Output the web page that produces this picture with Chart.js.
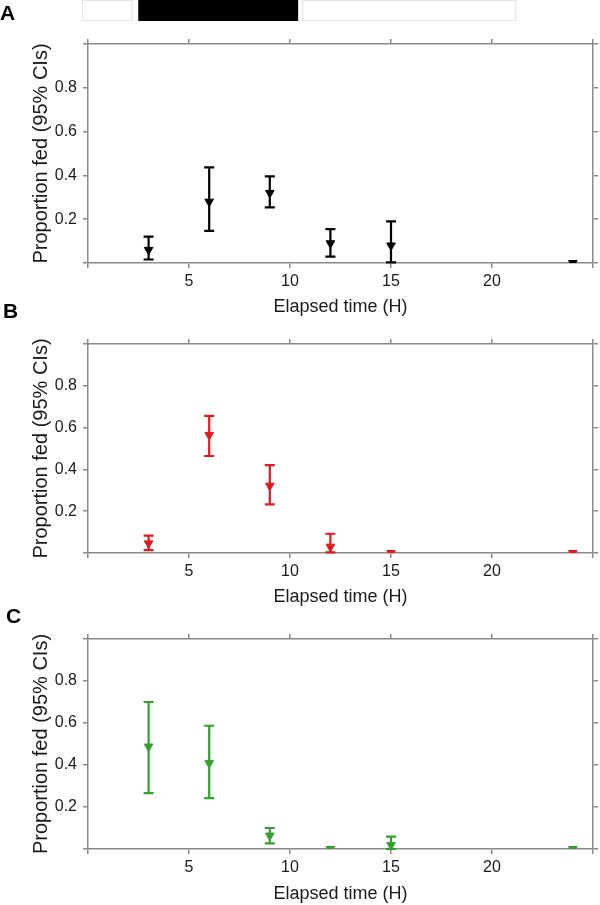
<!DOCTYPE html>
<html>
<head>
<meta charset="utf-8">
<script src="https://cdn.jsdelivr.net/npm/chart.js@4.4.1/dist/chart.umd.min.js"></script>
<style>
    body { margin: 0; background: #fff; width: 600px; height: 905px; position: relative; overflow: hidden; font-family: "Liberation Sans", Arial, sans-serif; }
    canvas { position: absolute; left: 0; }
    .tag { position: absolute; font-weight: bold; font-size: 21px; line-height: 21px; color: #000; z-index: 2; }
</style>
</head>
<body>
<canvas id="chartA" width="600" height="318" style="top:0"></canvas>
<canvas id="chartB" width="600" height="290" style="top:318px"></canvas>
<canvas id="chartC" width="600" height="297" style="top:608px"></canvas>
<div class="tag" style="left:0;top:2px">A</div>
<div class="tag" style="left:3px;top:300px">B</div>
<div class="tag" style="left:6px;top:605px">C</div>
<script>
// Sampling times (hours elapsed)
const hours = [3, 6, 9, 12, 15, 24];

// Panel A (black)
const fedA = [0.06, 0.28, 0.32, 0.09, 0.08, 0];
const lowA = [0.016, 0.147, 0.254, 0.029, 0.003, 0];
const highA = [0.12, 0.437, 0.396, 0.155, 0.19, 0];

// Panel B (red)
const fedB = [0.046, 0.565, 0.322, 0.03, 0, 0];
const lowB = [0.014, 0.464, 0.233, 0.003, 0, 0];
const highB = [0.083, 0.656, 0.42, 0.092, 0, 0];

// Panel C (green)
const fedC = [0.488, 0.409, 0.064, 0, 0.019, 0];
const lowC = [0.266, 0.242, 0.027, 0, 0, 0];
const highC = [0.70, 0.587, 0.10, 0, 0.059, 0];

// Light / dark bar above panel A (in hours)
const phaseStart = [-0.3, 2.5, 10.6];
const phaseEnd = [2.2, 10.4, 21.2];
const phaseDark = [false, true, false];

const xTicks = [5, 10, 15, 20];
const yTicks = [0.2, 0.4, 0.6, 0.8];

const axisGray = '#8a8a8a';
const font = '"Liberation Sans", Arial, sans-serif';

// draws the CI whiskers under the markers
const errorBars = {
    id: 'errorBars',
    beforeDatasetsDraw(chart, args, opts) {
        const ctx = chart.ctx;
        const xs = chart.scales.x, ys = chart.scales.y;
        ctx.save();
        ctx.strokeStyle = opts.color;
        ctx.lineWidth = 2.2;
        hours.forEach((h, i) => {
            if (opts.high[i] === opts.low[i]) return;
            const x = xs.getPixelForValue(h);
            const yl = ys.getPixelForValue(opts.low[i]);
            const yh = ys.getPixelForValue(opts.high[i]);
            ctx.beginPath();
            ctx.moveTo(x, yl); ctx.lineTo(x, yh);
            ctx.moveTo(x - 5, yl); ctx.lineTo(x + 5, yl);
            ctx.moveTo(x - 5, yh); ctx.lineTo(x + 5, yh);
            ctx.stroke();
        });
        ctx.restore();
    }
};

// light/dark phase strip on top of panel A
const phaseStrip = {
    id: 'phaseStrip',
    afterDraw(chart) {
        const ctx = chart.ctx;
        const xs = chart.scales.x;
        ctx.save();
        phaseStart.forEach((s, i) => {
            const x0 = xs.getPixelForValue(s);
            const x1 = xs.getPixelForValue(phaseEnd[i]);
            ctx.fillStyle = phaseDark[i] ? '#000' : '#fff';
            ctx.strokeStyle = phaseDark[i] ? '#000' : '#e2e2e2';
            ctx.lineWidth = 1;
            ctx.fillRect(x0, 0.5, x1 - x0, 20);
            ctx.strokeRect(x0 + 0.5, 0.5, x1 - x0 - 1, 20);
        });
        ctx.restore();
    }
};

function axisBase(extra) {
    return Object.assign({
        type: 'linear',
        border: { display: true, color: axisGray, width: 1.5 },
        grid: { drawOnChartArea: false, drawTicks: true, tickLength: 5, color: axisGray, lineWidth: 1.5 }
    }, extra);
}

function makeChart(id, fed, low, high, color, topH, bottomH, plugins) {
    const ctx = document.getElementById(id).getContext('2d');
    new Chart(ctx, {
        type: 'scatter',
        data: {
            datasets: [{
                data: hours.map((h, i) => ({ x: h, y: fed[i] })),
                pointStyle: 'triangle',
                rotation: 180,
                pointRadius: 5,
                backgroundColor: color,
                borderColor: color,
                borderWidth: 1
            }]
        },
        options: {
            responsive: false,
            animation: false,
            layout: { padding: 0 },
            plugins: {
                legend: { display: false },
                tooltip: { enabled: false },
                errorBars: { color: color, low: low, high: high }
            },
            scales: {
                x: axisBase({
                    position: 'bottom',
                    min: 0, max: 25,
                    ticks: {
                        stepSize: 5, padding: 4, color: '#1a1a1a', maxRotation: 0,
                        font: { family: font, size: 16 },
                        callback: v => xTicks.includes(v) ? String(v) : ''
                    },
                    title: { display: true, text: 'Elapsed time (H)', color: '#1a1a1a', padding: 0, font: { family: font, size: 18 } },
                    afterFit: s => { s.height = bottomH; }
                }),
                x2: axisBase({
                    position: 'top',
                    min: 0, max: 25,
                    ticks: { stepSize: 5, callback: () => '' },
                    afterFit: s => { s.height = topH; }
                }),
                y: axisBase({
                    position: 'left',
                    min: 0, max: 1,
                    ticks: {
                        stepSize: 0.2, padding: 6, color: '#1a1a1a',
                        font: { family: font, size: 16 },
                        callback: v => yTicks.some(t => Math.abs(t - v) < 1e-6) ? v.toFixed(1) : ''
                    },
                    title: { display: true, text: 'Proportion fed (95% CIs)', color: '#1a1a1a', padding: { top: 29, bottom: 0 }, font: { family: font, size: 20 } },
                    afterFit: s => { s.width = 88; }
                }),
                y2: axisBase({
                    position: 'right',
                    min: 0, max: 1,
                    ticks: { stepSize: 0.2, callback: () => '' },
                    afterFit: s => { s.width = 7; }
                })
            }
        },
        plugins: [errorBars].concat(plugins || [])
    });
}

makeChart('chartA', fedA, lowA, highA, '#000000', 44, 55, [phaseStrip]);
makeChart('chartB', fedB, lowB, highB, '#e31a1c', 26, 55);
makeChart('chartC', fedC, lowC, highC, '#33a02c', 31, 56);
</script>
</body>
</html>
